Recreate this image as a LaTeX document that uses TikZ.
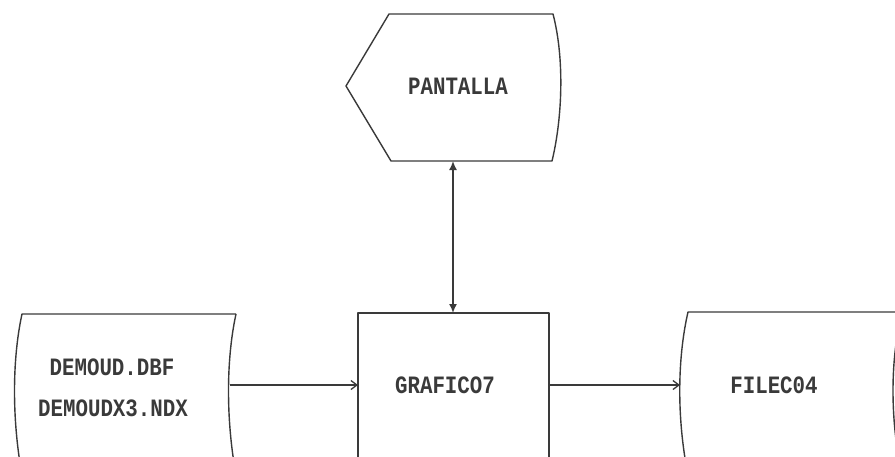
\documentclass[tikz,border=0pt]{standalone}
\usepackage{fontspec}
\newfontfamily\plotfont{Liberation Mono}
\usetikzlibrary{arrows.meta}
\definecolor{ink}{HTML}{3A3A3A}
\newcommand{\tall}[1]{\scalebox{1}[1.2]{#1}}
\tikzset{
  outline/.style={draw=ink, line width=1.4pt, line join=round},
  lbl/.style={text=ink, font=\plotfont\bfseries\fontsize{20.8}{22}\selectfont, inner sep=0pt},
  flow/.style={draw=ink, line width=1.3pt, -{Straight Barb[length=6pt,width=9pt]}},
  both/.style={draw=ink, line width=1.6pt, {Latex[length=9pt,width=8pt]}-{Latex[length=9pt,width=8pt]}},
}
\begin{document}
\begin{tikzpicture}[x=1pt,y=-1pt]
\useasboundingbox (0,0) rectangle (895,456);
\clip (0,0) rectangle (895,456);
% display PANTALLA
\draw[outline] (389,14) -- (553,14) .. controls (565,60) and (562,120) .. (552,161) -- (391,161) -- (346,86) -- cycle;
\node[lbl] (pant) at (458,86) {\tall{PANTALLA}};
\coordinate (pantb) at (453,161);
% process GRAFICO7
\draw[outline] (358,480) -- (358,313) -- (549,313) -- (549,480);
\node[lbl] (graf) at (445,385) {\tall{GRAFICO7}};
\coordinate (graft) at (453,313);
\coordinate (grafl) at (358,385);
\coordinate (grafr) at (549,385);
% left stored data
\draw[outline] (236,314) -- (22,314) .. controls (12,360) and (12,420) .. (22,475);
\draw[outline] (236,314) .. controls (226,360) and (226,420) .. (236,475);
\node[lbl] (dbf) at (112,367) {\tall{DEMOUD.DBF}};
\node[lbl] (ndx) at (113,408) {\tall{DEMOUDX3.NDX}};
\coordinate (demr) at (230,385);
% right stored data
\draw[outline] (910,312) -- (688,312) .. controls (677,360) and (677,420) .. (688,475);
\draw[outline] (902,312) .. controls (890,360) and (890,420) .. (902,475);
\node[lbl] (file) at (774,385) {\tall{FILEC04}};
\coordinate (filel) at (680,385);
% connectors
\draw[both] (pantb) -- (graft);
\draw[flow] (demr) -- (grafl);
\draw[flow] (grafr) -- (filel);
\end{tikzpicture}
\end{document}
